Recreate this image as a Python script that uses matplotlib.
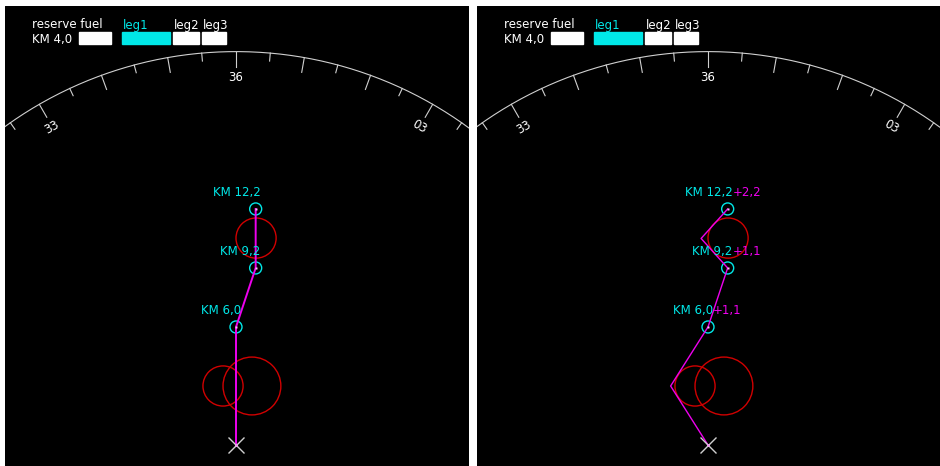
import numpy as np
import matplotlib
matplotlib.use("Agg")
import matplotlib.pyplot as plt
from matplotlib.patches import Circle, Rectangle

# --- data (km, aircraft at origin, north up) ---
wp_x = [0.0, 1.0, 1.0]
wp_y = [6.0, 9.0, 12.0]
wp_labels = ["KM 6,0", "KM 9,2", "KM 12,2"]
wp_extra = ["+1,1", "+1,1", "+2,2"]

route_x = [0.0, 0.0, 1.0, 1.0]
route_y = [0.0, 6.0, 9.0, 12.0]
detour_x = [0.0, -1.9, 0.0, 1.0, -0.35, 1.0]
detour_y = [0.0, 3.0, 6.0, 9.0, 10.5, 12.0]

threat_x = [-0.66, 0.81, 1.02]
threat_y = [3.0, 3.0, 10.52]
threat_r = [1.02, 1.47, 1.02]

leg_names = ["leg1", "leg2", "leg3"]
leg_km = [6.0, 3.2, 3.0]
reserve_km = 4.0
reserve_label = "KM 4,0"

compass_r = 20.0
headings = np.arange(-40, 45, 5)       # visible part of the compass rose

# --- style ---
CYAN, MAG, RED, GREY = "#00e8e8", "#ee00ee", "#d00000", "#d0d0d0"
S = 19.67           # px per km
FS = 8.5

fig = plt.figure(figsize=(9.4, 4.66), dpi=100, facecolor="white")


def panel(left_px, width_px, right_room, detour):
    ax = fig.add_axes([left_px / 940, 0, width_px / 940, 460 / 466], facecolor="black")
    ax.set_xlim(-231 / S, right_room / S)
    ax.set_ylim(-21 / S, 439 / S)
    ax.set_aspect("auto")
    ax.axis("off")
    ax.add_patch(Rectangle((0, 0), 1, 1, transform=ax.transAxes, color="black", zorder=0))

    # compass arc + ticks
    th = np.radians(np.linspace(-60, 60, 400))
    ax.plot(compass_r * np.sin(th), compass_r * np.cos(th), color=GREY, lw=0.8)
    for h in headings:
        a = np.radians(h)
        ln = 15 / S if h % 10 == 0 else 8 / S
        r0, r1 = compass_r, compass_r - ln
        ax.plot([r0 * np.sin(a), r1 * np.sin(a)], [r0 * np.cos(a), r1 * np.cos(a)],
                color=GREY, lw=0.8)
        if h % 30 == 0:
            hh = h % 360
            lab = f"{(hh // 10) if hh else 36:02d}"
            rl = compass_r - 26 / S
            ax.text(rl * np.sin(a), rl * np.cos(a), lab, color="white", fontsize=FS,
                    rotation=-h, rotation_mode="anchor", ha="center", va="center")

    # threats
    for x, y, r in zip(threat_x, threat_y, threat_r):
        ax.add_patch(Circle((x, y), r, fill=False, ec=RED, lw=1.0))

    # route
    if detour:
        ax.plot(detour_x, detour_y, color=MAG, lw=1.0)
    else:
        ax.plot(route_x, route_y, color=MAG, lw=1.4)

    # waypoints
    for i, (x, y, lab) in enumerate(zip(wp_x, wp_y, wp_labels)):
        ax.add_patch(Circle((x, y), 6 / S, fill=False, ec=CYAN, lw=1.0))
        ax.plot(x, y, "s", ms=2, color="#ffc0ff", mec="none")
        ax.annotate(lab, (x, y), xytext=(5, 16), textcoords="offset pixels",
                    ha="right", va="center", color=CYAN, fontsize=FS)
        if detour:
            ax.annotate(wp_extra[i], (x, y), xytext=(5, 16), textcoords="offset pixels",
                        ha="left", va="center", color=MAG, fontsize=FS)

    # aircraft
    ax.plot(0, 0, "x", ms=11, mew=1.0, color=GREY)
    ax.plot(0, 0, "s", ms=2, color="#ff80ff", mec="none")

    # fuel bar (8 px per km)
    def fx(px):
        return (px - left_px) / width_px

    def fy(py):
        return (466 - py) / 460

    kw = dict(transform=ax.transAxes, fontsize=FS, va="center", ha="left")
    ax.text(fx(left_px + 27), fy(25), "reserve fuel", color="white", **kw)
    ax.text(fx(left_px + 27), fy(39), reserve_label, color="white", **kw)
    bh = 12 / 460
    x0 = left_px + 74
    ax.add_patch(Rectangle((fx(x0), fy(44)), reserve_km * 8 / width_px, bh,
                           transform=ax.transAxes, color="white"))
    x0 += reserve_km * 8 + 11
    for j, (name, km) in enumerate(zip(leg_names, leg_km)):
        col = CYAN if j == 0 else "white"
        ax.add_patch(Rectangle((fx(x0), fy(44)), km * 8 / width_px, bh,
                               transform=ax.transAxes, color=col))
        ax.text(fx(x0 + 1), fy(25), name, color=col, **kw)
        x0 += km * 8 + 3
    return ax


panel(5, 464, 233, False)
panel(477, 463, 232, True)

fig.savefig("out.png", dpi=100, facecolor="white")
